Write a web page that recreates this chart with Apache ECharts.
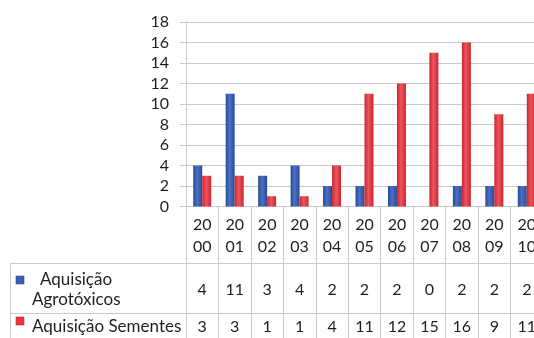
<!DOCTYPE html>
<html>
<head>
<meta charset="utf-8">
<script src="https://cdn.jsdelivr.net/npm/echarts@6/dist/echarts.min.js"></script>
<style>
  html, body { margin: 0; padding: 0; background: #ffffff; }
  #chart { width: 534px; height: 338px; }
</style>
</head>
<body>
<div id="chart"></div>
<script>
// Yearly acquisitions, 2000-2010
const years = ['2000', '2001', '2002', '2003', '2004', '2005', '2006', '2007', '2008', '2009', '2010'];
const agrotoxicos = [4, 11, 3, 4, 2, 2, 2, 0, 2, 2, 2];
const sementes = [3, 3, 1, 1, 4, 11, 12, 15, 16, 9, 11];
const seriesNames = ['Aquisição Agrotóxicos', 'Aquisição Sementes'];
const yTicks = { min: 0, max: 18, step: 2 };

const FONT = 'Lato';
const TEXT = '#1f1f1f';
const RULE = '#c9c9c9';
const BLUE = '#3d5fb2';
const RED = '#e8353d';

function barGradient(edge, mid) {
  return new echarts.graphic.LinearGradient(0, 0, 1, 0, [
    { offset: 0, color: edge },
    { offset: 0.45, color: mid },
    { offset: 1, color: edge }
  ]);
}

// a category axis that only prints one row of the data table
function tableRow(values, margin) {
  return {
    type: 'category',
    position: 'bottom',
    data: years,
    axisLine: { show: false },
    axisTick: { show: false },
    axisLabel: {
      interval: 0,
      margin: margin,
      fontFamily: FONT,
      fontSize: 16,
      lineHeight: 20,
      color: TEXT,
      formatter: (v, i) => String(values[i])
    }
  };
}

const chart = echarts.init(document.getElementById('chart'));
chart.setOption({
  animation: false,
  backgroundColor: '#ffffff',
  // the table runs past the right edge of the page
  grid: { left: 186, right: -9, top: 22, bottom: 131.5, containLabel: false, outerBoundsMode: 'none' },
  xAxis: [
    {
      type: 'category',
      position: 'bottom',
      data: years,
      axisLine: { show: true, lineStyle: { color: RULE } },
      axisTick: { show: true, interval: 0, length: 140, lineStyle: { color: RULE } },
      axisLabel: {
        interval: 0,
        margin: 8,
        fontFamily: FONT,
        fontSize: 16,
        lineHeight: 21.5,
        color: TEXT,
        formatter: v => v.slice(0, 2) + '\n' + v.slice(2)
      }
    },
    tableRow(agrotoxicos, 73.5),
    tableRow(sementes, 110)
  ],
  yAxis: {
    type: 'value',
    min: yTicks.min,
    max: yTicks.max,
    interval: yTicks.step,
    axisLine: { show: true, lineStyle: { color: RULE } },
    axisTick: { show: true, length: 6, lineStyle: { color: RULE } },
    splitLine: { show: true, lineStyle: { color: RULE } },
    axisLabel: { margin: 17, fontFamily: FONT, fontSize: 16, color: TEXT }
  },
  series: [
    {
      name: seriesNames[0],
      type: 'bar',
      data: agrotoxicos,
      barWidth: 9,
      barGap: '0%',
      itemStyle: { color: barGradient('#2c4a92', '#4a70c6') }
    },
    {
      name: seriesNames[1],
      type: 'bar',
      data: sementes,
      barWidth: 9,
      barGap: '0%',
      itemStyle: { color: barGradient('#c72730', '#f2535a') }
    }
  ],
  graphic: [
    // table rules left of the plot
    { type: 'line', silent: true, shape: { x1: 10, y1: 263.5, x2: 534, y2: 263.5 }, style: { stroke: RULE, lineWidth: 1 } },
    { type: 'line', silent: true, shape: { x1: 10, y1: 313.5, x2: 534, y2: 313.5 }, style: { stroke: RULE, lineWidth: 1 } },
    { type: 'line', silent: true, shape: { x1: 10.5, y1: 263.5, x2: 10.5, y2: 338 }, style: { stroke: RULE, lineWidth: 1 } },
    // row headers
    { type: 'rect', silent: true, shape: { x: 16, y: 276, width: 8, height: 8 }, style: { fill: BLUE, stroke: '#2c4a92', lineWidth: 0.6 } },
    { type: 'text', silent: true, x: 40, y: 280, style: { text: 'Aquisição', font: '17px ' + FONT, fill: TEXT, verticalAlign: 'middle' } },
    { type: 'text', silent: true, x: 32, y: 300, style: { text: 'Agrotóxicos', font: '17px ' + FONT, fill: TEXT, verticalAlign: 'middle' } },
    { type: 'rect', silent: true, shape: { x: 16, y: 317, width: 8, height: 8 }, style: { fill: RED, stroke: '#c72730', lineWidth: 0.6 } },
    { type: 'text', silent: true, x: 32, y: 326.5, style: { text: 'Aquisição Sementes', font: '17px ' + FONT, fill: TEXT, verticalAlign: 'middle' } }
  ]
});
</script>
</body>
</html>
